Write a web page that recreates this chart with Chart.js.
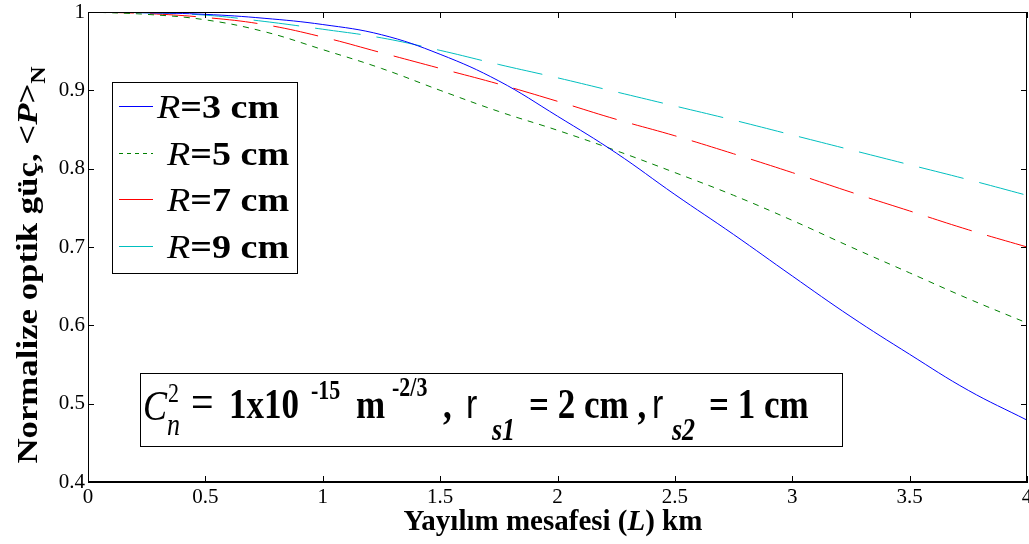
<!DOCTYPE html>
<html>
<head>
<meta charset="utf-8">
<script src="https://cdn.jsdelivr.net/npm/chart.js@4.4.1/dist/chart.umd.min.js"></script>
<style>
  html, body { margin: 0; padding: 0; background: #fff; }
</style>
</head>
<body>
<canvas id="powerChart" width="1029" height="544"></canvas>
<script>
// distance L (km)
const distances = [0, 0.25, 0.5, 0.75, 1, 1.25, 1.5, 1.75, 2, 2.25, 2.5, 2.75, 3, 3.25, 3.5, 3.75, 4];
// normalized optical power <P>_N for each receiver radius
const powerR3 = [1, 0.999, 0.997, 0.992, 0.984, 0.971, 0.946, 0.912, 0.867, 0.82, 0.767, 0.716, 0.663, 0.611, 0.563, 0.517, 0.479];
const powerR5 = [1, 0.997, 0.99, 0.975, 0.952, 0.928, 0.9, 0.873, 0.849, 0.823, 0.795, 0.766, 0.734, 0.7, 0.667, 0.634, 0.603];
const powerR7 = [1, 0.998, 0.993, 0.984, 0.968, 0.948, 0.928, 0.908, 0.886, 0.863, 0.842, 0.819, 0.795, 0.77, 0.746, 0.722, 0.7];
const powerR9 = [1, 0.999, 0.996, 0.988, 0.978, 0.967, 0.951, 0.933, 0.916, 0.898, 0.88, 0.862, 0.843, 0.824, 0.805, 0.786, 0.766];
const radiusLabels = ['3', '5', '7', '9'];

const SERIF = '"Liberation Serif", "Times New Roman", serif';
const SANS = '"Liberation Sans", Arial, sans-serif';

function toPoints(vals) {
    return vals.map((v, i) => ({ x: distances[i], y: v }));
}

// draws a row of text pieces, each with its own font and baseline shift
function drawRuns(ctx, x, y, runs, align) {
    let w = 0;
    runs.forEach(r => {
        ctx.font = r.f;
        w += ctx.measureText(r.t).width;
    });
    let cx = align === 'center' ? x - w / 2 : x;
    runs.forEach(r => {
        ctx.font = r.f;
        ctx.fillText(r.t, cx, y + (r.dy || 0));
        cx += ctx.measureText(r.t).width;
    });
    return w;
}

// text piece at a fixed spot, stretched a little in height like the original figure
function putText(ctx, t, font, x, y, sy) {
    ctx.save();
    ctx.translate(x, y);
    ctx.scale(1, sy || 1);
    ctx.font = font;
    ctx.fillText(t, 0, 0);
    ctx.restore();
}

const matlabFrame = {
    id: 'matlabFrame',
    afterDraw(chart) {
        const ctx = chart.ctx;
        const a = chart.chartArea;
        const xs = chart.scales.x, ys = chart.scales.y;
        ctx.save();
        ctx.strokeStyle = '#000';
        ctx.lineWidth = 1;
        ctx.setLineDash([]);
        ctx.strokeRect(a.left + 0.5, a.top + 0.5, a.right - a.left - 1, a.bottom - a.top - 1);
        // inward ticks on all four sides
        ctx.beginPath();
        xs.ticks.forEach(t => {
            const px = Math.round(xs.getPixelForValue(t.value)) + 0.5;
            ctx.moveTo(px, a.bottom); ctx.lineTo(px, a.bottom - 6);
            ctx.moveTo(px, a.top); ctx.lineTo(px, a.top + 6);
        });
        ys.ticks.forEach(t => {
            const py = Math.round(ys.getPixelForValue(t.value)) + 0.5;
            ctx.moveTo(a.left, py); ctx.lineTo(a.left + 6, py);
            ctx.moveTo(a.right, py); ctx.lineTo(a.right - 6, py);
        });
        ctx.stroke();

        ctx.textBaseline = 'alphabetic';

        // legend box
        const lx = 112, ly = 82, lw = 185, lh = 191;
        ctx.fillStyle = '#fff';
        ctx.fillRect(lx, ly, lw, lh);
        ctx.strokeRect(lx + 0.5, ly + 0.5, lw, lh);
        const rowY = [106, 153, 199, 246];
        chart.data.datasets.forEach((ds, i) => {
            ctx.beginPath();
            ctx.strokeStyle = ds.borderColor;
            ctx.lineWidth = 1;
            ctx.setLineDash(i === 1 ? [4, 4] : []);
            ctx.moveTo(119, rowY[i] + 0.5);
            ctx.lineTo(153, rowY[i] + 0.5);
            ctx.stroke();
            ctx.setLineDash([]);
            ctx.fillStyle = '#000';
            ctx.save();
            ctx.translate(i === 0 ? 157 : 167, rowY[i] + 12);
            ctx.scale(1.12, 1.0);
            drawRuns(ctx, 0, 0, [
                { t: 'R', f: 'italic 34px ' + SERIF },
                { t: '=' + radiusLabels[i] + ' cm', f: 'bold 34px ' + SERIF }
            ]);
            ctx.restore();
        });

        // parameter box
        ctx.strokeStyle = '#000';
        ctx.fillStyle = '#fff';
        ctx.fillRect(140, 373, 702, 73);
        ctx.strokeRect(140.5, 373.5, 702, 73);
        ctx.fillStyle = '#000';
        const sy = 1.2;
        const big = 'bold 35px ' + SERIF;
        const sup = 'bold 22px ' + SERIF;
        const sub = 'bold italic 26px ' + SERIF;
        const base = 418;
        putText(ctx, 'C', 'italic 36px ' + SERIF, 143, 420, sy);
        putText(ctx, '2', '22px ' + SERIF, 168, 402, sy);
        putText(ctx, 'n', 'italic 26px ' + SERIF, 167, 435, sy);
        putText(ctx, '=', '40px ' + SERIF, 191, base, sy);
        putText(ctx, '1x10', big, 229, base, sy);
        putText(ctx, '-15', sup, 311, 399, sy);
        putText(ctx, 'm', big, 356, base, sy);
        putText(ctx, '-2/3', sup, 392, 396, sy);
        putText(ctx, ',', big, 443, base, sy);
        putText(ctx, 'r', '34px ' + SANS, 466, base, sy);
        putText(ctx, 's1', sub, 492, 440, sy);
        putText(ctx, '= 2 cm ,', big, 529, base, sy);
        putText(ctx, 'r', '34px ' + SANS, 652, base, sy);
        putText(ctx, 's2', sub, 672, 440, sy);
        putText(ctx, '= 1 cm', big, 709, base, sy);

        // axis titles
        drawRuns(ctx, 553, 530, [
            { t: 'Yayılım mesafesi (', f: 'bold 29px ' + SERIF },
            { t: 'L', f: 'bold italic 29px ' + SERIF },
            { t: ') km', f: 'bold 29px ' + SERIF }
        ], 'center');

        ctx.save();
        ctx.translate(37, 265);
        ctx.rotate(-Math.PI / 2);
        ctx.scale(1.2, 1);
        drawRuns(ctx, 0, 0, [
            { t: 'Normalize optik güç, <', f: 'bold 29px ' + SERIF },
            { t: 'P', f: 'bold italic 29px ' + SERIF },
            { t: '>', f: 'bold 29px ' + SERIF },
            { t: 'N', f: 'bold 20px ' + SERIF, dy: 8 }
        ], 'center');
        ctx.restore();
        ctx.restore();
    }
};

const tickFont = { family: SERIF, size: 21 };

new Chart(document.getElementById('powerChart'), {
    type: 'line',
    data: {
        datasets: [
            { label: 'R=3 cm', data: toPoints(powerR3), borderColor: '#0000ff', borderWidth: 1, pointRadius: 0, tension: 0.4, fill: false },
            { label: 'R=5 cm', data: toPoints(powerR5), borderColor: '#008000', borderWidth: 1, pointRadius: 0, tension: 0.4, fill: false, borderDash: [6, 6] },
            { label: 'R=7 cm', data: toPoints(powerR7), borderColor: '#ff0000', borderWidth: 1, pointRadius: 0, tension: 0.4, fill: false, borderDash: [46, 16] },
            { label: 'R=9 cm', data: toPoints(powerR9), borderColor: '#00bfbf', borderWidth: 1, pointRadius: 0, tension: 0.4, fill: false, borderDash: [46, 16], borderDashOffset: 20 }
        ]
    },
    options: {
        responsive: false,
        animation: false,
        layout: { padding: { top: 12, right: 2, left: 0, bottom: 0 } },
        plugins: { legend: { display: false }, tooltip: { enabled: false } },
        scales: {
            x: {
                type: 'linear', min: 0, max: 4,
                grid: { display: false, drawTicks: false },
                border: { display: true, color: '#000' },
                ticks: {
                    stepSize: 0.5, color: '#000', font: tickFont, padding: 3,
                    maxRotation: 0, autoSkip: false,
                    callback: v => String(Math.round(v * 10) / 10)
                },
                afterFit: s => { s.height = 62; s.paddingLeft = 0; s.paddingRight = 0; }
            },
            y: {
                type: 'linear', min: 0.4, max: 1,
                grid: { display: false, drawTicks: false },
                border: { display: true, color: '#000' },
                ticks: {
                    stepSize: 0.1, color: '#000', font: tickFont, padding: 3,
                    callback: v => String(Math.round(v * 10) / 10)
                },
                afterFit: s => { s.width = 88; s.paddingTop = 0; s.paddingBottom = 0; }
            }
        }
    },
    plugins: [matlabFrame]
});
</script>
</body>
</html>
